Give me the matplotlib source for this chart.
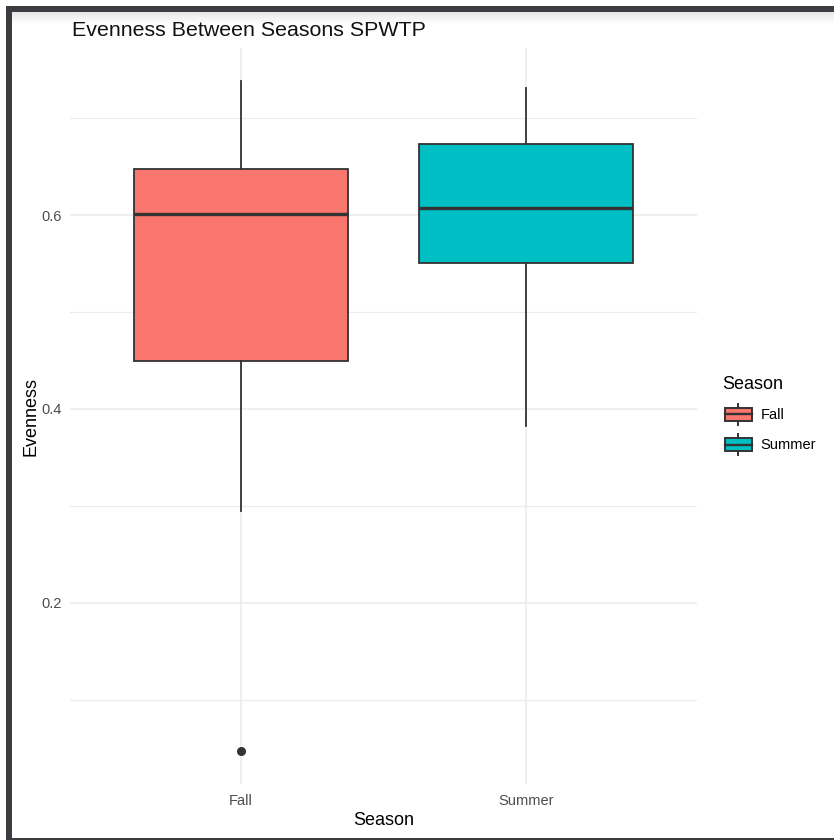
import matplotlib
matplotlib.use("Agg")
import matplotlib.pyplot as plt
from matplotlib.patches import Rectangle
from matplotlib.lines import Line2D
from matplotlib.legend_handler import HandlerBase
import numpy as np

plt.rcParams['font.family'] = ['Liberation Sans', 'DejaVu Sans']

# Summary statistics per season
seasons = ["Fall", "Summer"]
fill_colors = ["#F8766D", "#00BFC4"]
whisker_low = [0.295, 0.3825]
q1 = [0.449, 0.5505]
median = [0.601, 0.607]
q3 = [0.648, 0.673]
whisker_high = [0.738, 0.731]
outliers = [[0.0474], []]

W, H = 834, 840
fig = plt.figure(figsize=(W / 100, H / 100), dpi=100)
fig.patch.set_facecolor("white")

# Panel placement in pixels
L, R, T, B = 70, 697, 48, 784
ax = fig.add_axes([L / W, 1 - B / H, (R - L) / W, (B - T) / H])
ax.set_facecolor("white")

edge = "#333333"
stats = []
for i in range(len(seasons)):
    stats.append(dict(whislo=whisker_low[i], q1=q1[i], med=median[i], q3=q3[i],
                      whishi=whisker_high[i], fliers=outliers[i], label=seasons[i]))

bp = ax.bxp(stats, positions=[1, 2], widths=0.75, patch_artist=True,
            showcaps=False,
            boxprops=dict(edgecolor=edge, linewidth=1.3),
            whiskerprops=dict(color=edge, linewidth=1.3),
            medianprops=dict(color=edge, linewidth=2.4),
            flierprops=dict(marker='o', markerfacecolor=edge, markeredgecolor=edge,
                            markersize=5.5, linestyle='none'),
            zorder=3)
for patch, c in zip(bp['boxes'], fill_colors):
    patch.set_facecolor(c)

ax.set_xlim(0.4, 2.6)
data_min = min(min(whisker_low), min(o for ol in outliers for o in ol))
data_max = max(whisker_high)
pad = (data_max - data_min) * 0.05
ax.set_ylim(data_min - pad, data_max + pad)

ax.set_yticks([0.2, 0.4, 0.6])
ax.set_yticklabels(["0.2", "0.4", "0.6"])
ax.set_yticks([0.1, 0.3, 0.5, 0.7], minor=True)
ax.set_xticks([1, 2])
ax.set_xticklabels(seasons)

ax.grid(True, which='major', color="#EBEBEB", linewidth=1.1, zorder=0)
ax.grid(True, which='minor', axis='y', color="#EBEBEB", linewidth=0.8, zorder=0)
ax.set_axisbelow(True)
for s in ax.spines.values():
    s.set_visible(False)
ax.tick_params(axis='both', which='both', length=0, labelsize=10.5, labelcolor="#4D4D4D")
ax.tick_params(axis='x', pad=7)
ax.tick_params(axis='y', pad=6)

ax.set_xlabel("Season", fontsize=13, color="black", labelpad=3)
ax.set_ylabel("Evenness", fontsize=13, color="black", labelpad=1.5)

fig.text(72 / W, 1 - 36 / H, "Evenness Between Seasons SPWTP", fontsize=15.4,
         color="#111111", ha="left", va="baseline")


class BoxKeyHandler(HandlerBase):
    def create_artists(self, legend, orig_handle, xdescent, ydescent, width, height,
                       fontsize, trans):
        x0, w = -xdescent, width
        y0, h = -ydescent, height
        bx0 = x0 + w * 0.08
        bw = w * 0.84
        rect = Rectangle((bx0, y0 + h * 0.12), bw, h * 0.76,
                         facecolor=orig_handle.get_facecolor(), edgecolor=edge,
                         linewidth=1.4, transform=trans)
        mid = Line2D([bx0, bx0 + bw], [y0 + h * 0.5] * 2, color=edge,
                     linewidth=1.7, transform=trans)
        top = Line2D([x0 + w / 2] * 2, [y0 + h * 0.88, y0 + h * 1.1], color=edge,
                     linewidth=1.4, transform=trans)
        bot = Line2D([x0 + w / 2] * 2, [y0 - h * 0.1, y0 + h * 0.12], color=edge,
                     linewidth=1.4, transform=trans)
        return [rect, mid, top, bot]


handles = [Rectangle((0, 0), 1, 1, facecolor=c) for c in fill_colors]
leg = fig.legend(handles, seasons, title="Season",
                 handler_map={Rectangle: BoxKeyHandler()},
                 loc="upper left", bbox_to_anchor=(709 / W, 1 - 363 / H),
                 frameon=False, fontsize=10.5, title_fontsize=13,
                 handlelength=2.2, handleheight=1.5, handletextpad=0.45,
                 labelspacing=0.85, alignment="left")

# Window frame around the image
dark = "#3b3d40"
fig.add_artist(Rectangle((6 / W, 1 - 12 / H), 1, 6 / H, transform=fig.transFigure,
                         facecolor=dark, edgecolor="none"))
fig.add_artist(Rectangle((6 / W, 0), 6 / W, 1 - 6 / H, transform=fig.transFigure,
                         facecolor=dark, edgecolor="none"))
fig.add_artist(Rectangle((6 / W, 0), 1, 2 / H, transform=fig.transFigure,
                         facecolor=dark, edgecolor="none"))
# soft shadow under the top bar
for k in range(12):
    a = 0.09 * (1 - k / 12)
    fig.add_artist(Rectangle((12 / W, 1 - (13 + k) / H), 1, 1 / H, transform=fig.transFigure,
                             facecolor="black", alpha=a, edgecolor="none"))

fig.savefig("out.png", dpi=100, facecolor="white")
